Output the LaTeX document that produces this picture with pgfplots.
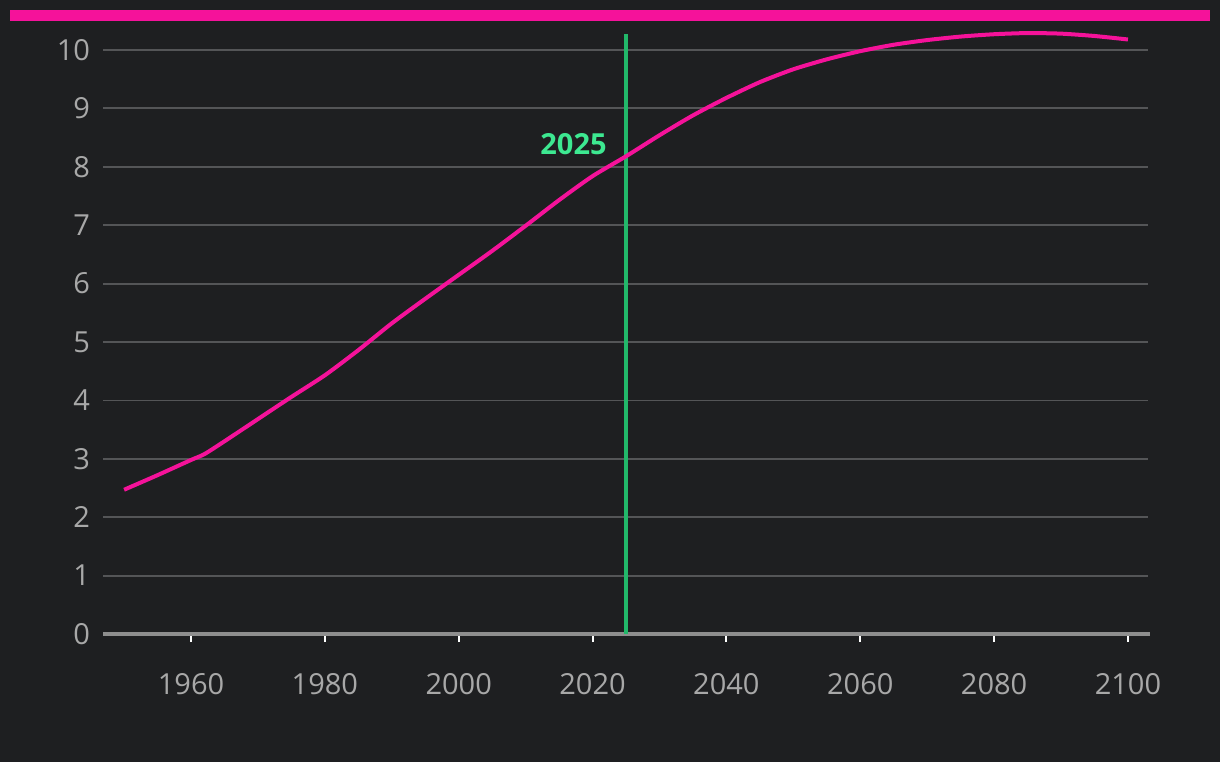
\documentclass[border=0pt]{standalone}
\usepackage{pgfplots}
\pgfplotsset{compat=1.18}
\usepackage{fontspec}
\setmainfont{Open Sans}
\definecolor{bg}{HTML}{1E1F21}
\definecolor{pinkc}{HTML}{F5129A}
\definecolor{gridc}{HTML}{545557}
\definecolor{zeroc}{HTML}{8E8E8E}
\definecolor{labc}{HTML}{A8A8A8}
\definecolor{greenl}{HTML}{22B86A}
\definecolor{greent}{HTML}{3DE891}
\begin{document}
\begin{tikzpicture}
\useasboundingbox (0,0) rectangle (610pt,381pt);
\fill[bg] (0,0) rectangle (610pt,381pt);
\fill[pinkc] (5pt,370.5pt) rectangle (605pt,376pt);
\begin{axis}[
  at={(51.5pt,64pt)}, anchor=south west,
  scale only axis, width=522.5pt, height=300.76pt,
  xmin=1946.85, xmax=2103, ymin=0, ymax=10.3,
  xtick={1960,1980,...,2100}, ytick={0,1,...,10},
  xticklabel style={/pgf/number format/1000 sep={}, yshift=-12pt},
  yticklabel style={xshift=1pt},
  font=\fontsize{14.5}{17}\selectfont,
  tick label style={color=labc},
  /pgf/number format/assume math mode=true,
  axis line style={draw=none},
  ymajorgrids, grid style={gridc, line width=0.9pt},
  xtick pos=bottom, tick align=outside,
  major tick length=4pt,
  xtick style={white, line width=1pt},
  ytick style={draw=none},
  clip=false,
]
\addplot[zeroc, line width=2pt, forget plot] coordinates {(1946.85,0) (2103.3,0)};
\addplot[greenl, line width=1.6pt] coordinates {(2025,0) (2025,10.27)};
\addplot[pinkc, line width=2pt, smooth, tension=0.4] coordinates {
(1950,2.47) (1955,2.72) (1960,2.98) (1962,3.08) (1965,3.30) (1970,3.68) (1975,4.06)
(1980,4.43) (1985,4.86) (1990,5.32) (1995,5.74) (2000,6.15) (2005,6.56)
(2010,6.99) (2015,7.43) (2020,7.84) (2025,8.18) (2030,8.54) (2035,8.88)
(2040,9.18) (2045,9.45) (2050,9.67) (2055,9.84) (2060,9.98) (2065,10.09)
(2070,10.17) (2075,10.23) (2080,10.27) (2085,10.29) (2090,10.28) (2095,10.24) (2100,10.18)};
\node[anchor=east, text=greent, font=\fontsize{14.5}{17}\selectfont\bfseries, inner sep=0pt] at (axis cs:2025,8.39) [xshift=-9.5pt] {2025};
\end{axis}
\end{tikzpicture}
\end{document}
